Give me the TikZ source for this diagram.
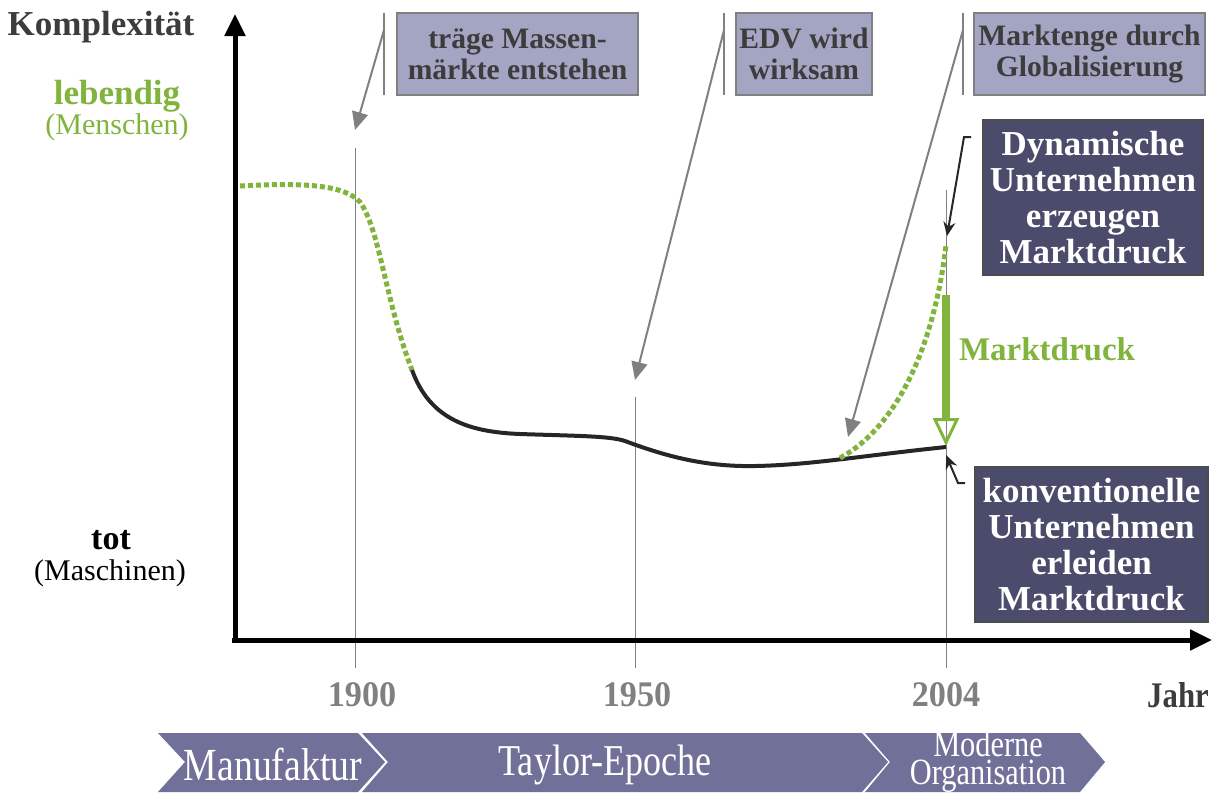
\documentclass[tikz,border=0pt]{standalone}
\usepackage{fontspec}
\setmainfont{Liberation Serif}
\usetikzlibrary{arrows.meta}
\definecolor{boxlight}{HTML}{A4A4C3}
\definecolor{boxdark}{HTML}{4B4B6B}
\definecolor{epoch}{HTML}{707099}
\definecolor{lgreen}{HTML}{80B43C}
\definecolor{txtgrey}{HTML}{3C3C3C}
\tikzset{
  axis/.style={line width=2.5pt,-{Triangle[length=11pt,width=10pt]}},
  yearline/.style={draw=gray,line width=0.5pt},
  eventbox/.style={draw=gray,line width=1pt,fill=boxlight,text=txtgrey,align=center,
    font=\fontsize{14.8}{15.5}\selectfont\bfseries,inner sep=0pt,minimum height=41pt},
  darkbox/.style={draw=black!70,line width=1pt,fill=boxdark,text=white,align=center,
    font=\fontsize{17.5}{18}\selectfont\bfseries,inner sep=0pt,minimum height=77.5pt},
  hint/.style={draw=gray,line width=1pt,-{Triangle[length=9pt,width=8pt]}},
  pointer/.style={draw=black!85,line width=1pt,-{Stealth[length=7pt,width=6pt]}},
  yearlabel/.style={font=\fontsize{18}{18}\selectfont\bfseries,text=gray,xscale=.95},
  epochtext/.style={text=white,align=center,xscale=.82},
  dots/.style={draw=lgreen,line width=2.5pt,dash pattern=on 2.5pt off 1.5pt}
}
\begin{document}
\begin{tikzpicture}[x=0.5pt,y=-0.5pt]
  \useasboundingbox (0,0) rectangle (1218,794);

  % year lines
  \draw[yearline] (355,148) -- (355,668);
  \draw[yearline] (635,397) -- (635,668);
  \draw[yearline] (946,190) -- (946,668);

  % axes
  \draw[axis] (235,642) -- (235,14);
  \draw[axis] (232,640) -- (1212,640);

  % curve
  \draw[dots] (240,186) .. controls (310,182) and (345,186) .. (360,202)
    .. controls (380,230) and (385,300) .. (412,370);
  \draw[line width=2pt,black!85] (412,370) .. controls (430,420) and (470,432) .. (520,434)
    .. controls (580,436) and (610,436) .. (625,441)
    .. controls (665,456) and (705,467) .. (755,466)
    .. controls (810,465) and (860,456) .. (946,447);
  \draw[dots] (840,458) .. controls (900,425) and (935,340) .. (946,245);

  % left labels
  \node[text=txtgrey,font=\fontsize{17.5}{18}\selectfont\bfseries] (komplex) at (101,27) {Komplexität};
  \node[text=lgreen,font=\fontsize{17.5}{18}\selectfont\bfseries] (lebendig) at (117,96) {lebendig};
  \node[text=lgreen,font=\fontsize{15}{16}\selectfont] (menschen) at (117,127) {(Menschen)};
  \node[font=\fontsize{17}{18}\selectfont\bfseries] (tot) at (111,540) {tot};
  \node[font=\fontsize{15}{16}\selectfont] (maschinen) at (110,573) {(Maschinen)};

  % events
  \node[eventbox,minimum width=120.5pt] (massen) at (517.5,54) {träge Massen-\\märkte entstehen};
  \node[eventbox,minimum width=68pt] (edv) at (804,54) {EDV wird\\wirksam};
  \node[eventbox,minimum width=115.5pt] (enge) at (1089.5,54) {Marktenge durch\\Globalisierung};
  \draw[gray,line width=1pt] (384,13) -- (384,95);
  \draw[gray,line width=1pt] (724,13) -- (724,95);
  \draw[gray,line width=1pt] (963,13) -- (963,95);
  \coordinate (m1) at (384,30);
  \coordinate (m2) at (724,30);
  \coordinate (m3) at (963,30);
  \coordinate (t1) at (355,130);
  \coordinate (t2) at (635,380);
  \coordinate (t3) at (848,437);
  \draw[hint] (m1) -- (t1);
  \draw[hint] (m2) -- (t2);
  \draw[hint] (m3) -- (t3);

  % companies
  \node[darkbox,minimum width=110pt] (dyn) at (1093,197.5) {Dynamische\\Unternehmen\\erzeugen\\Marktdruck};
  \node[darkbox,minimum width=116.5pt] (konv) at (1091.5,544.5) {konventionelle\\Unternehmen\\erleiden\\Marktdruck};
  \coordinate (d1) at (971,137);
  \coordinate (d2) at (964,137);
  \coordinate (d3) at (947,236);
  \draw[pointer] (d1) -- (d2) -- (d3);
  \coordinate (k1) at (965,483);
  \coordinate (k2) at (958,483);
  \coordinate (k3) at (946,455);
  \draw[pointer] (k1) -- (k2) -- (k3);

  % Marktdruck
  \coordinate (p1) at (946,295);
  \coordinate (p2) at (946,446);
  \draw[lgreen,line width=4pt,-{Triangle[open,length=14pt,width=13pt,line width=1.5pt]}] (p1) -- (p2);
  \node[text=lgreen,font=\fontsize{16.5}{18}\selectfont\bfseries] (druck) at (1047,349) {Marktdruck};

  % years
  \node[yearlabel] (y1900) at (362,695) {1900};
  \node[yearlabel] (y1950) at (637,695) {1950};
  \node[yearlabel] (y2004) at (946,695) {2004};
  \node[yearlabel,text=txtgrey,xscale=.9] (jahr) at (1178,695) {Jahr};

  % epochs
  \fill[epoch] (158,733) -- (358,733) -- (385,762) -- (358,792) -- (158,792) -- (185,762) -- cycle;
  \fill[epoch] (362,733) -- (862,733) -- (888,762) -- (862,792) -- (362,792) -- (388,762) -- cycle;
  \fill[epoch] (865,733) -- (1080,733) -- (1105,762) -- (1080,792) -- (865,792) -- (890,762) -- cycle;
  \node[epochtext,font=\fontsize{23}{23}\selectfont] (manu) at (273,765) {Manufaktur};
  \node[epochtext,font=\fontsize{22}{22}\selectfont] (taylor) at (605,765) {Taylor-Epoche};
  \node[epochtext,font=\fontsize{18.5}{14}\selectfont] (modern) at (988,762) {Moderne\\Organisation};
\end{tikzpicture}
\end{document}
